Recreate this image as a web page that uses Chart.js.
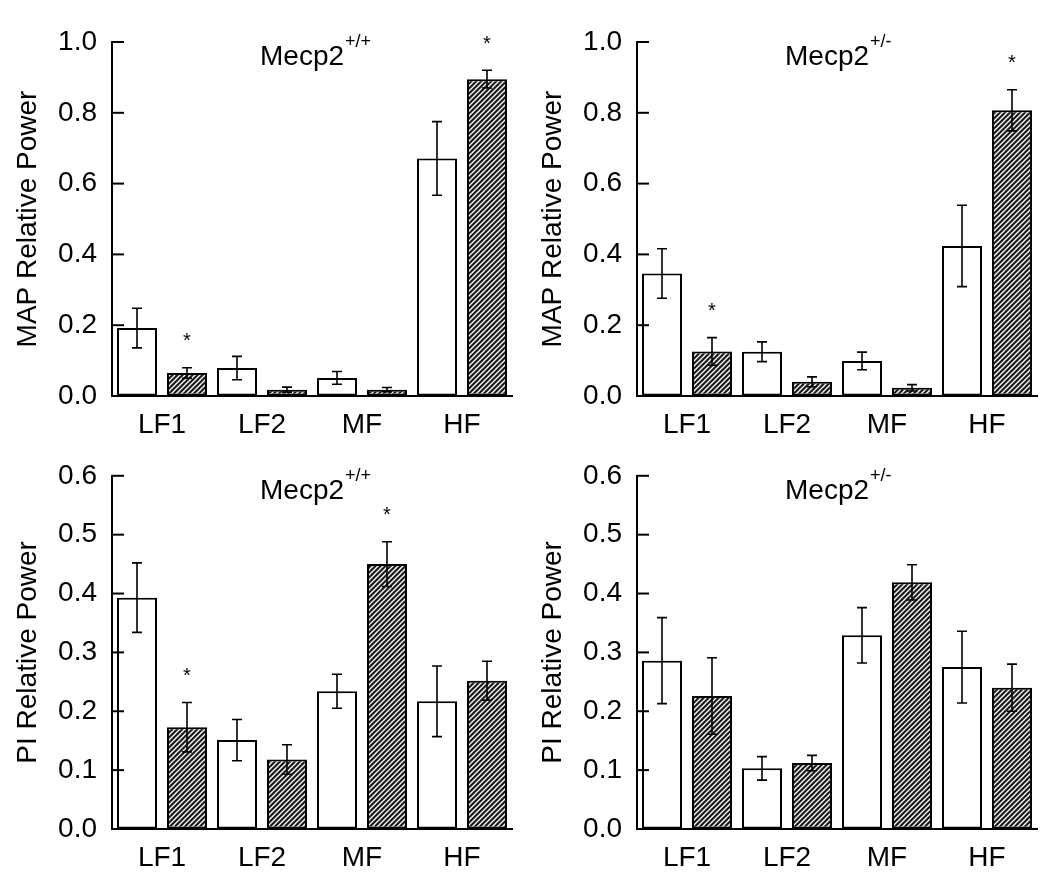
<!DOCTYPE html>
<html>
<head>
<meta charset="utf-8">
<script src="https://cdn.jsdelivr.net/npm/chart.js@4.4.1/dist/chart.umd.min.js"></script>
<style>
  body { margin: 0; background: #fff; width: 1050px; height: 887px; position: relative; overflow: hidden; }
  canvas { position: absolute; }
</style>
</head>
<body>
<canvas id="mapWt" width="525" height="444" style="left:0;top:0"></canvas>
<canvas id="mapHet" width="525" height="444" style="left:525px;top:0"></canvas>
<canvas id="piWt" width="525" height="443" style="left:0;top:444px"></canvas>
<canvas id="piHet" width="525" height="443" style="left:525px;top:444px"></canvas>
<script>
const categories = ["LF1", "LF2", "MF", "HF"];

// MAP, Mecp2+/+
const mapWtOpen = [0.192, 0.079, 0.051, 0.671];
const mapWtOpenErr = [0.056, 0.033, 0.018, 0.104];
const mapWtHatch = [0.065, 0.018, 0.018, 0.895];
const mapWtHatchErr = [0.015, 0.007, 0.006, 0.025];
const mapWtStars = [true, false, false, true];

// MAP, Mecp2+/-
const mapHetOpen = [0.346, 0.125, 0.099, 0.424];
const mapHetOpenErr = [0.07, 0.028, 0.025, 0.115];
const mapHetHatch = [0.126, 0.040, 0.023, 0.807];
const mapHetHatchErr = [0.039, 0.014, 0.009, 0.058];
const mapHetStars = [true, false, false, true];

// PI, Mecp2+/+
const piWtOpen = [0.393, 0.151, 0.234, 0.217];
const piWtOpenErr = [0.059, 0.035, 0.029, 0.06];
const piWtHatch = [0.173, 0.118, 0.450, 0.252];
const piWtHatchErr = [0.042, 0.025, 0.038, 0.033];
const piWtStars = [true, false, true, false];

// PI, Mecp2+/-
const piHetOpen = [0.286, 0.103, 0.329, 0.275];
const piHetOpenErr = [0.073, 0.02, 0.047, 0.061];
const piHetHatch = [0.226, 0.112, 0.419, 0.240];
const piHetHatchErr = [0.065, 0.013, 0.03, 0.04];
const piHetStars = [false, false, false, false];

const mapTicks = [0, 0.2, 0.4, 0.6, 0.8, 1.0];
const piTicks = [0, 0.1, 0.2, 0.3, 0.4, 0.5, 0.6];

const FONT = "'Liberation Sans', Arial, Helvetica, sans-serif";

// diagonal hatch fill
function hatchPattern() {
  const s = 5;
  const c = document.createElement("canvas");
  c.width = s; c.height = s;
  const g = c.getContext("2d");
  g.fillStyle = "#1c1c1c";
  g.fillRect(0, 0, s, s);
  g.strokeStyle = "#ffffff";
  g.lineWidth = 1.3;
  g.beginPath();
  g.moveTo(0, s); g.lineTo(s, 0);
  g.moveTo(-1, 1); g.lineTo(1, -1);
  g.moveTo(s - 1, s + 1); g.lineTo(s + 1, s - 1);
  g.stroke();
  return g.createPattern(c, "repeat");
}
const hatch = hatchPattern();

const extras = {
  id: "extras",
  afterDatasetsDraw(chart) {
    const ctx = chart.ctx;
    const y = chart.scales.y;
    const area = chart.chartArea;
    ctx.save();
    ctx.strokeStyle = "#000";
    ctx.fillStyle = "#000";
    ctx.lineWidth = 1.6;
    chart.data.datasets.forEach((ds, i) => {
      const meta = chart.getDatasetMeta(i);
      meta.data.forEach((bar, j) => {
        const v = ds.data[j], e = ds.errors[j];
        const top = y.getPixelForValue(v + e);
        const bot = y.getPixelForValue(v - e);
        ctx.beginPath();
        ctx.moveTo(bar.x, top); ctx.lineTo(bar.x, bot);
        ctx.moveTo(bar.x - 5, top); ctx.lineTo(bar.x + 5, top);
        ctx.moveTo(bar.x - 5, bot); ctx.lineTo(bar.x + 5, bot);
        ctx.stroke();
        if (ds.stars && ds.stars[j]) {
          ctx.font = "20px " + FONT;
          ctx.textAlign = "center";
          ctx.textBaseline = "middle";
          ctx.fillText("*", bar.x, top - 26);
        }
      });
    });
    // inward y ticks
    ctx.lineWidth = 2;
    y.ticks.forEach(t => {
      const py = y.getPixelForValue(t.value);
      ctx.beginPath();
      ctx.moveTo(area.left, py); ctx.lineTo(area.left + 12, py);
      ctx.stroke();
    });
    // panel title with superscript
    const o = chart.options.plugins.panelTitle;
    ctx.textAlign = "left";
    ctx.textBaseline = "alphabetic";
    ctx.font = "28px " + FONT;
    const bx = area.left + 148, by = area.top + 23;
    ctx.fillText(o.main, bx, by);
    const w = ctx.measureText(o.main).width;
    ctx.font = "18px " + FONT;
    ctx.fillText(o.sup, bx + w + 1, by - 18);
    ctx.restore();
  }
};

function makePanel(id, yTitle, main, sup, ticks, open, openErr, hatched, hatchedErr, stars, top, xHeight) {
  return new Chart(document.getElementById(id), {
    type: "bar",
    data: {
      labels: categories,
      datasets: [
        {
          data: open,
          errors: openErr,
          backgroundColor: "#ffffff",
          borderColor: "#000",
          borderWidth: 2,
          borderSkipped: false,
        },
        {
          data: hatched,
          errors: hatchedErr,
          stars: stars,
          backgroundColor: hatch,
          borderColor: "#000",
          borderWidth: 2,
          borderSkipped: false,
        },
      ],
    },
    options: {
      responsive: false,
      animation: false,
      events: [],
      layout: { padding: { top: top, right: 13, bottom: 0, left: 0 } },
      categoryPercentage: 1.0,
      barPercentage: 0.8,
      plugins: {
        legend: { display: false },
        tooltip: { enabled: false },
        panelTitle: { main: main, sup: sup },
      },
      scales: {
        x: {
          afterFit: s => { s.height = xHeight; },
          grid: { display: true, drawOnChartArea: false, drawTicks: false },
          border: { display: true, color: "#000", width: 2 },
          ticks: { color: "#000", font: { family: FONT, size: 28 }, padding: 12 },
        },
        y: {
          min: 0,
          max: ticks[ticks.length - 1],
          afterBuildTicks: s => { s.ticks = ticks.map(v => ({ value: v })); },
          afterFit: s => { s.width = 112; },
          grid: { display: true, drawOnChartArea: false, drawTicks: false },
          border: { display: true, color: "#000", width: 2 },
          ticks: {
            color: "#000",
            font: { family: FONT, size: 28 },
            padding: 15,
            callback: v => v.toFixed(1),
          },
          title: {
            display: true,
            text: yTitle,
            color: "#000",
            font: { family: FONT, size: 28 },
            padding: { top: 11, bottom: 4 },
          },
        },
      },
    },
    plugins: [extras],
  });
}

makePanel("mapWt", "MAP Relative Power", "Mecp2", "+/+", mapTicks,
  mapWtOpen, mapWtOpenErr, mapWtHatch, mapWtHatchErr, mapWtStars, 42, 48);
makePanel("mapHet", "MAP Relative Power", "Mecp2", "+/-", mapTicks,
  mapHetOpen, mapHetOpenErr, mapHetHatch, mapHetHatchErr, mapHetStars, 42, 48);
makePanel("piWt", "PI Relative Power", "Mecp2", "+/+", piTicks,
  piWtOpen, piWtOpenErr, piWtHatch, piWtHatchErr, piWtStars, 31, 58);
makePanel("piHet", "PI Relative Power", "Mecp2", "+/-", piTicks,
  piHetOpen, piHetOpenErr, piHetHatch, piHetHatchErr, piHetStars, 31, 58);
</script>
</body>
</html>
